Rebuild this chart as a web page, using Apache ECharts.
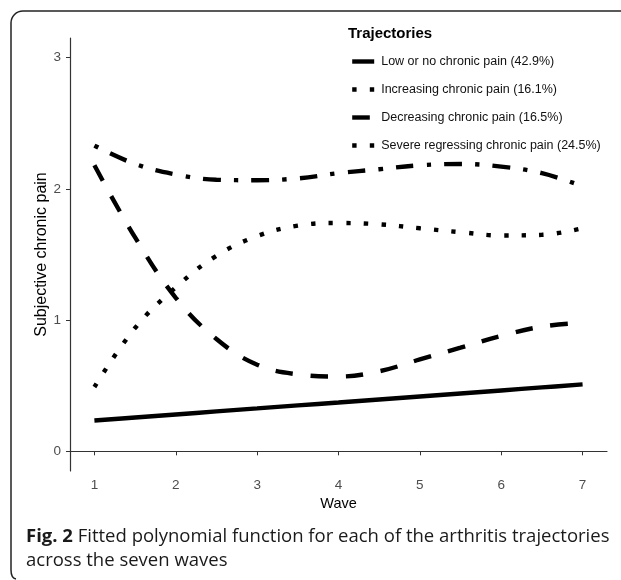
<!DOCTYPE html>
<html>
<head>
<meta charset="utf-8">
<script src="https://cdn.jsdelivr.net/npm/echarts@6/dist/echarts.min.js"></script>
<style>
html,body{margin:0;padding:0;background:#fff;}
#chart{width:621px;height:580px;}
</style>
</head>
<body>
<div id="chart"></div>
<script>
// ---- data ----
var waves = [1, 1.5, 2, 2.5, 3, 3.5, 4, 4.5, 5, 5.5, 6, 6.5, 7];
var lowPain        = [0.235, 0.258, 0.281, 0.304, 0.327, 0.350, 0.372, 0.395, 0.418, 0.441, 0.464, 0.487, 0.51];
var increasingPain = [0.49, 0.94, 1.25, 1.49, 1.64, 1.72, 1.74, 1.73, 1.70, 1.67, 1.645, 1.65, 1.70];
var decreasingPain = [2.18, 1.63, 1.17, 0.856, 0.66, 0.586, 0.57, 0.61, 0.70, 0.79, 0.88, 0.95, 0.98];
var severePain     = [2.33, 2.19, 2.11, 2.07, 2.066, 2.08, 2.12, 2.15, 2.18, 2.19, 2.17, 2.12, 2.02];
var seriesNames = [
  'Low or no chronic pain (42.9%)',
  'Increasing chronic pain (16.1%)',
  'Decreasing chronic pain (16.5%)',
  'Severe regressing chronic pain (24.5%)'
];
var xTicks = [1, 2, 3, 4, 5, 6, 7];
var yTicks = [0, 1, 2, 3];

function pairs(ys) { return waves.map(function (x, i) { return [x, ys[i]]; }); }

var LW = 4.4;
var chart = echarts.init(document.getElementById('chart'));
var font = 'Liberation Sans, Arial, sans-serif';

function mkSeries(name, ys, dash) {
  return {
    name: name, type: 'line', data: pairs(ys), smooth: 0.4,
    symbol: 'none', silent: true, animation: false,
    itemStyle: { color: '#000' },
    lineStyle: { color: '#000', width: LW, type: dash, cap: 'butt' }
  };
}

var frameStyle = { fill: 'none', stroke: '#222', lineWidth: 1.5 };
var capFont = '18.5px Open Sans, sans-serif';

chart.setOption({
  animation: false,
  backgroundColor: '#fff',
  grid: { left: 70, right: 14, top: 38, bottom: 109 },
  xAxis: {
    type: 'value', min: 0.7, max: 7.3,
    name: 'Wave', nameLocation: 'middle', nameGap: 20,
    nameTextStyle: { fontFamily: font, fontSize: 14.5, color: '#000' },
    axisLine: { show: true, lineStyle: { color: '#333', width: 1.2 } },
    axisTick: { show: true, length: 4, lineStyle: { color: '#333' }, customValues: xTicks },
    axisLabel: { fontFamily: font, fontSize: 13.5, color: '#4d4d4d', margin: 7, customValues: xTicks },
    splitLine: { show: false }
  },
  yAxis: {
    type: 'value', min: -0.15, max: 3.15,
    name: 'Subjective chronic pain', nameLocation: 'middle', nameGap: 20, nameMoveOverlap: false,
    nameTextStyle: { fontFamily: font, fontSize: 16, color: '#000' },
    axisLine: { show: true, lineStyle: { color: '#333', width: 1.2 } },
    axisTick: { show: true, length: 4, lineStyle: { color: '#333' }, customValues: yTicks },
    axisLabel: { fontFamily: font, fontSize: 13.5, color: '#4d4d4d', margin: 9, customValues: yTicks },
    splitLine: { show: false }
  },
  legend: {
    orient: 'vertical', left: 350, top: 55, padding: 0,
    itemWidth: 22, itemHeight: 14, itemGap: 15,
    itemStyle: { opacity: 0 },
    lineStyle: { width: LW, color: '#000', cap: 'butt' },
    textStyle: { fontFamily: font, fontSize: 12.5, color: '#111', padding: [0, 0, 0, 2] },
    selectedMode: false,
    data: seriesNames
  },
  graphic: [
    { type: 'text', left: 348, top: 26, silent: true,
      style: { text: 'Trajectories', font: 'bold 15px Liberation Sans, Arial, sans-serif', fill: '#000' } },
    { type: 'line', silent: true, shape: { x1: 23, y1: 11, x2: 621, y2: 11 }, style: frameStyle },
    { type: 'line', silent: true, shape: { x1: 11, y1: 23, x2: 11, y2: 570 }, style: frameStyle },
    { type: 'arc', silent: true, shape: { cx: 23, cy: 23, r: 12, startAngle: Math.PI, endAngle: Math.PI * 1.5 }, style: frameStyle },
    { type: 'bezierCurve', silent: true, shape: { x1: 11, y1: 570, cpx1: 11, cpy1: 578, x2: 16, y2: 579 }, style: frameStyle },
    { type: 'text', x: 26, y: 537, silent: true,
      style: {
        text: '{b|Fig. 2} Fitted polynomial function for each of the arthritis trajectories',
        font: capFont, fill: '#1a1a1a', verticalAlign: 'middle',
        rich: { b: { font: 'bold 18.5px Open Sans, sans-serif', fill: '#1a1a1a' } }
      } },
    { type: 'text', x: 26, y: 561, silent: true,
      style: { text: 'across the seven waves', font: capFont, fill: '#1a1a1a', verticalAlign: 'middle' } }
  ],
  series: [
    mkSeries(seriesNames[0], lowPain, 'solid'),
    mkSeries(seriesNames[1], increasingPain, [LW, 3 * LW]),
    mkSeries(seriesNames[2], decreasingPain, [4 * LW, 4 * LW]),
    mkSeries(seriesNames[3], severePain, [LW, 3 * LW, 4 * LW, 3 * LW])
  ]
});
</script>
</body>
</html>
